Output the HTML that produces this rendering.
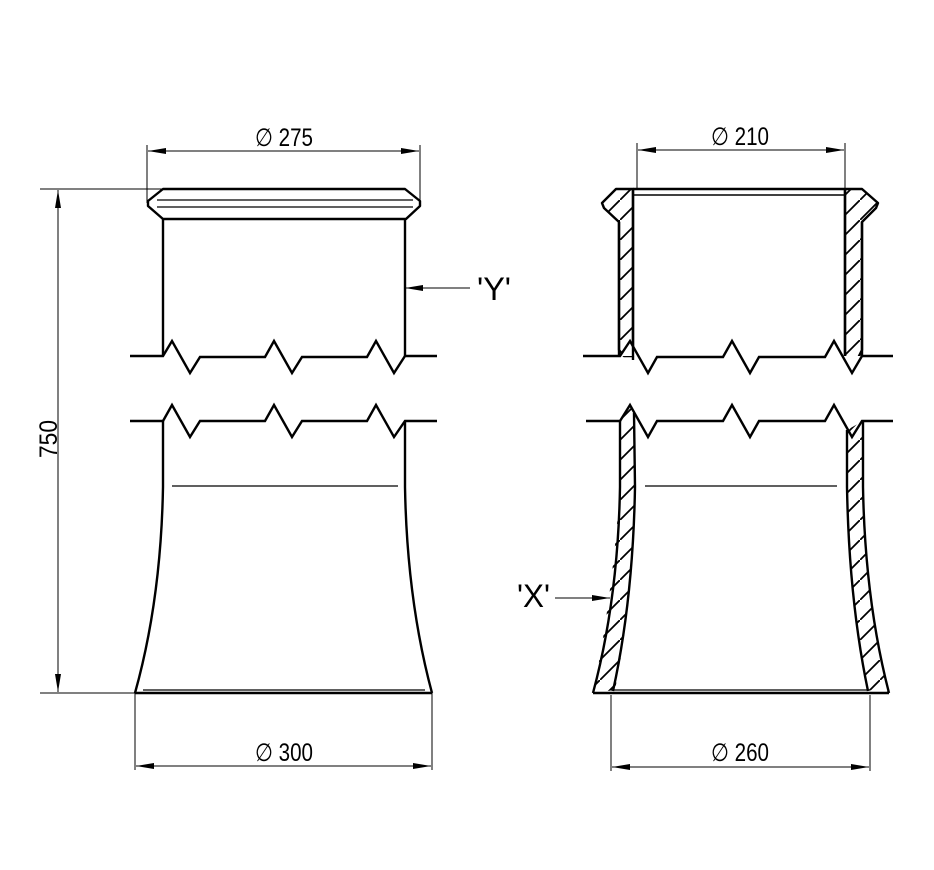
<!DOCTYPE html>
<html><head><meta charset="utf-8"><style>
html,body{margin:0;padding:0;background:#fff}
svg{display:block}
text{font-family:"Liberation Sans",sans-serif;fill:#000}
</style></head><body>
<svg width="934" height="870" viewBox="0 0 934 870" xmlns="http://www.w3.org/2000/svg">
<defs>
<pattern id="h" patternUnits="userSpaceOnUse" width="20" height="20">
<line x1="-2" y1="22" x2="22" y2="-2" stroke="#000" stroke-width="1.8"/>
</pattern>
<marker id="a" viewBox="0 0 18 6" refX="18" refY="3" markerWidth="18" markerHeight="6" orient="auto-start-reverse" markerUnits="userSpaceOnUse">
<path d="M0,0 L18,3 L0,6 Z" fill="#000"/>
</marker>
</defs>
<g fill="none" stroke="#000">
<line x1="147" y1="145" x2="147" y2="203" stroke-width="1"/>
<line x1="420" y1="145" x2="420" y2="203" stroke-width="1"/>
<line x1="148" y1="151" x2="419" y2="151" stroke-width="1" marker-start="url(#a)" marker-end="url(#a)"/>
<line x1="40" y1="189" x2="163" y2="189" stroke-width="1"/>
<path d="M163,189 L405,189 L420,201 L420,206 L406,219 L163,219 L148,206 L148,201 Z" stroke-width="2.4" stroke-linejoin="round"/>
<line x1="157" y1="200" x2="413" y2="200" stroke-width="1.2"/>
<line x1="157" y1="207" x2="413" y2="207" stroke-width="1.2"/>
<line x1="163" y1="219" x2="163" y2="356" stroke-width="2.4"/>
<line x1="405" y1="219" x2="405" y2="356" stroke-width="2.4"/>
<line x1="405" y1="288" x2="470" y2="288" stroke-width="1" marker-start="url(#a)"/>
<path d="M130,356 L163,356 L172,341 L190,373 L200,357 L265,357 L274,341 L292,373 L302,357 L367,357 L376,341 L394,373 L405,356 L437,356" stroke-width="2.4"/>
<path d="M130,421 L163,421 L172,405 L190,437 L200,421 L265,421 L274,405 L292,437 L302,421 L367,421 L376,405 L394,437 L405,421 L437,421" stroke-width="2.4"/>
<path d="M163,421 L163,487 Q161,600 135,693" stroke-width="2.4"/>
<path d="M405,421 L405,487 Q407,600 432,693" stroke-width="2.4"/>
<line x1="172" y1="486" x2="398" y2="486" stroke-width="1.2"/>
<line x1="135" y1="693" x2="432" y2="693" stroke-width="2.4"/>
<line x1="143" y1="690" x2="425" y2="690" stroke-width="1.2"/>
<line x1="40" y1="693" x2="135" y2="693" stroke-width="1"/>
<line x1="58" y1="190" x2="58" y2="692" stroke-width="1" marker-start="url(#a)" marker-end="url(#a)"/>
<line x1="135" y1="693" x2="135" y2="770" stroke-width="1"/>
<line x1="432" y1="693" x2="432" y2="770" stroke-width="1"/>
<line x1="136" y1="766" x2="431" y2="766" stroke-width="1" marker-start="url(#a)" marker-end="url(#a)"/>
<line x1="637" y1="143" x2="637" y2="190" stroke-width="1"/>
<line x1="845" y1="143" x2="845" y2="190" stroke-width="1"/>
<line x1="638" y1="150" x2="844" y2="150" stroke-width="1" marker-start="url(#a)" marker-end="url(#a)"/>
<path d="M633,189 L616,189 L602,203 L604,208 L619,222 L619,350 L624,356 L633,356 Z" fill="url(#h)" stroke-width="2.4" stroke-linejoin="round"/>
<path d="M845,189 L862,189 L878,203 L876,208 L862,222 L862,350 L852,370 L845,356 Z" fill="url(#h)" stroke-width="2.4" stroke-linejoin="round"/>
<line x1="633" y1="189" x2="845" y2="189" stroke-width="2.4"/>
<line x1="633" y1="195" x2="845" y2="195" stroke-width="1.4"/>
<path d="M583,356 L620,356 L630,341 L648,373 L657,357 L723,357 L732,341 L750,373 L759,357 L825,357 L834,341 L852,373 L862,356 L893,356" stroke-width="2.4" fill="#fff"/>
<line x1="619" y1="222" x2="619" y2="356" stroke-width="2.4"/>
<line x1="633" y1="189" x2="633" y2="360" stroke-width="2.4"/>
<line x1="845" y1="189" x2="845" y2="356" stroke-width="2.4"/>
<line x1="862" y1="222" x2="862" y2="356" stroke-width="2.4"/>
<path d="M620,421 L630,405 L635,413 L635,487 Q633,600 615,690 L593,693 Q612,600 620,487 Z" fill="url(#h)" stroke="none"/>
<path d="M847,430 L863,421 L863,487 Q866,600 889,693 L868,690 Q850,600 847,487 Z" fill="url(#h)" stroke="none"/>
<path d="M586,421 L620,421 L630,405 L648,437 L657,421 L723,421 L732,405 L750,437 L759,421 L825,421 L834,405 L852,437 L862,421 L893,421" stroke-width="2.4"/>
<path d="M620,421 L620,487 Q618,600 593,693" stroke-width="2.4"/>
<path d="M634,413 L635,487 Q633,600 613,691" stroke-width="2.4"/>
<path d="M847,430 L847,487 Q849,600 868,691" stroke-width="2.4"/>
<path d="M863,421 L863,487 Q865,600 889,693" stroke-width="2.4"/>
<line x1="645" y1="486" x2="837" y2="486" stroke-width="1.2"/>
<line x1="593" y1="693" x2="889" y2="693" stroke-width="2.4"/>
<line x1="611" y1="690" x2="870" y2="690" stroke-width="1.2"/>
<line x1="555" y1="598" x2="610" y2="598" stroke-width="1" marker-end="url(#a)"/>
<line x1="611" y1="695" x2="611" y2="771" stroke-width="1"/>
<line x1="870" y1="695" x2="870" y2="771" stroke-width="1"/>
<line x1="612" y1="767" x2="869" y2="767" stroke-width="1" marker-start="url(#a)" marker-end="url(#a)"/>
</g>
<g font-size="25">
<text x="255" y="146" textLength="58" lengthAdjust="spacingAndGlyphs">∅ 275</text>
<text x="711" y="145" textLength="58" lengthAdjust="spacingAndGlyphs">∅ 210</text>
<text x="255" y="761" textLength="58" lengthAdjust="spacingAndGlyphs">∅ 300</text>
<text x="711" y="761" textLength="58" lengthAdjust="spacingAndGlyphs">∅ 260</text>
<text transform="translate(57,458) rotate(-90)" textLength="38" lengthAdjust="spacingAndGlyphs">750</text>
</g>
<text x="477" y="300" font-size="32" textLength="34" lengthAdjust="spacingAndGlyphs">'Y'</text>
<text x="517" y="607" font-size="32" textLength="33" lengthAdjust="spacingAndGlyphs">'X'</text>
</svg>
</body></html>
